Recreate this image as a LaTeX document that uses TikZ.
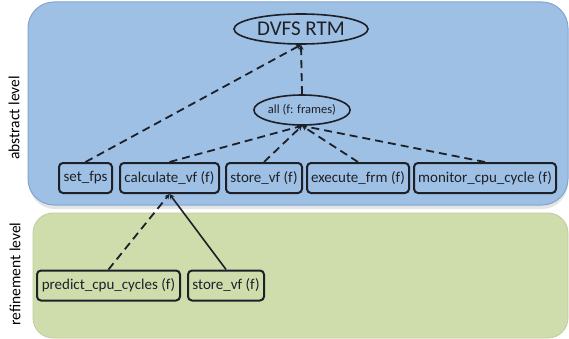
\documentclass[tikz,border=0pt]{standalone}
\usepackage{fontspec}
\setmainfont{Carlito}
\usetikzlibrary{arrows.meta,shapes.geometric}
\definecolor{bluefill}{RGB}{158,192,228}
\definecolor{blueedge}{RGB}{128,165,210}
\definecolor{greenfill}{RGB}{207,220,172}
\definecolor{greenedge}{RGB}{190,205,155}
\definecolor{ink}{RGB}{30,32,40}
\tikzset{
  fnbox/.style={draw=ink, line width=2pt, rounded corners=4pt, inner sep=1pt,
    minimum height=30, font=\fontsize{15}{17}\selectfont, text=ink},
  oval/.style={draw=ink, line width=1.6pt, ellipse, inner sep=0pt, text=ink},
  dep/.style={draw=ink, line width=1.8pt, dash pattern=on 8pt off 5pt, -{Stealth[length=5pt,width=5pt]}},
  sol/.style={draw=ink, line width=1.6pt, -{Stealth[length=5pt,width=5pt]}},
  lvl/.style={rotate=90, font=\fontsize{15.5}{17}\selectfont, text=black},
}
\begin{document}
\begin{tikzpicture}[x=1pt,y=-1pt]
\useasboundingbox (0,0) rectangle (569,339);
% level regions
\fill[gray!40, opacity=0.5, rounded corners=26] (29,6) rectangle (568,209);
\filldraw[fill=bluefill, draw=blueedge, line width=1pt, rounded corners=26] (28,2) rectangle (568,205);
\filldraw[fill=greenfill, draw=greenedge, line width=0.8pt, rounded corners=20] (33,213) rectangle (568,338);
% level labels
\node[lvl] (abs) at (14,118) {abstract level};
\node[lvl] (ref) at (15,274) {refinement level};
% nodes
\node[oval, minimum width=134, minimum height=30, font=\fontsize{21}{23}\selectfont] (rtm) at (301,29) {DVFS RTM};
\node[oval, minimum width=80, minimum height=30, font=\fontsize{12.5}{14}\selectfont] (all) at (302,110) {all (f: frames)};
\node[fnbox, minimum width=53] (fps) at (85.5,178) {set\_fps};
\node[fnbox, minimum width=99] (calc) at (169.5,178) {calculate\_vf (f)};
\node[fnbox, minimum width=76] (store) at (264,178) {store\_vf (f)};
\node[fnbox, minimum width=102] (exec) at (358,178) {execute\_frm (f)};
\node[fnbox, minimum width=142] (mon) at (485,178) {monitor\_cpu\_cycle (f)};
\node[fnbox, minimum width=143] (pred) at (108.5,285.5) {predict\_cpu\_cycles (f)};
\node[fnbox, minimum width=76] (store2) at (226,285.5) {store\_vf (f)};
% connectors
\draw[dep] (fps.north) -- (rtm.south);
\draw[dep] (all.north) -- (rtm.south);
\draw[dep] (calc.north) -- (all.south);
\draw[dep] (store.north) -- (all.south);
\draw[dep] (exec.north) -- (all.south);
\draw[dep] (mon.north) -- (all.south);
\draw[dep] (pred.north) -- (calc.south);
\draw[sol] (store2.north) -- (calc.south);
\end{tikzpicture}
\end{document}
